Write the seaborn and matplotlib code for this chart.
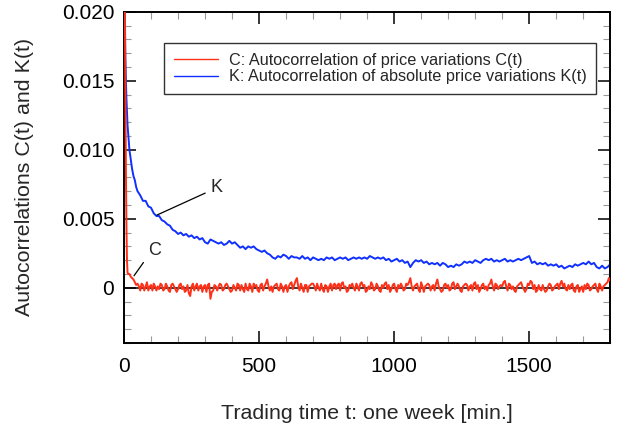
import numpy as np
import pandas as pd
import matplotlib
matplotlib.use("Agg")
import matplotlib.pyplot as plt
import seaborn as sns

# time axis [min]: fine steps during the fast initial decay, then regular steps
t_start = [1, 3, 5, 7, 9, 11, 13, 16, 20, 25, 30, 35, 40, 45]
t_k_tail = list(range(50, 1801, 10))
t_c_tail = list(range(50, 1801, 5))

# K(t): autocorrelation of absolute price variations
k_start = [0.0240, 0.0200, 0.0168, 0.0150, 0.0137, 0.0127, 0.0118, 0.0110,
           0.0100, 0.0093, 0.0086, 0.0081, 0.0078, 0.0073]
k_tail = [
    0.0070, 0.0067, 0.0063, 0.0063, 0.0059, 0.0058, 0.0054, 0.0052, 0.0052, 0.0049,
    0.0048, 0.0046, 0.0045, 0.0042, 0.0041, 0.0039, 0.0040, 0.0038, 0.0039, 0.0037,
    0.0038, 0.0036, 0.0037, 0.0035, 0.0036, 0.0033, 0.0032, 0.0035, 0.0034, 0.0033,
    0.0032, 0.0033, 0.0031, 0.0032, 0.0034, 0.0032, 0.0033, 0.0031, 0.0029, 0.0030,
    0.0028, 0.0030, 0.0029, 0.0030, 0.0028, 0.0027, 0.0026, 0.0027, 0.0025, 0.0024,
    0.0022, 0.0021, 0.0023, 0.0022, 0.0024, 0.0023, 0.0021, 0.0023, 0.0022, 0.0022,
    0.0021, 0.0023, 0.0021, 0.0022, 0.0020, 0.0022, 0.0021, 0.0020, 0.0021, 0.0020,
    0.0022, 0.0021, 0.0022, 0.0020, 0.0021, 0.0022, 0.0021, 0.0022, 0.0020, 0.0021,
    0.0022, 0.0021, 0.0022, 0.0021, 0.0022, 0.0021, 0.0023, 0.0022, 0.0021, 0.0022,
    0.0021, 0.0022, 0.0020, 0.0021, 0.0019, 0.0020, 0.0021, 0.0019, 0.0020, 0.0018,
    0.0019, 0.0015, 0.0018, 0.0020, 0.0019, 0.0020, 0.0018, 0.0019, 0.0017, 0.0018,
    0.0017, 0.0018, 0.0016, 0.0018, 0.0017, 0.0015, 0.0016, 0.0015, 0.0017, 0.0016,
    0.0017, 0.0019, 0.0018, 0.0019, 0.0018, 0.0020, 0.0019, 0.0018, 0.0020, 0.0021,
    0.0020, 0.0021, 0.0019, 0.0020, 0.0019, 0.0020, 0.0021, 0.0019, 0.0020, 0.0019,
    0.0020, 0.0021, 0.0020, 0.0021, 0.0022, 0.0023, 0.0018, 0.0019, 0.0017, 0.0018,
    0.0017, 0.0018, 0.0016, 0.0017, 0.0016, 0.0017, 0.0015, 0.0016, 0.0014, 0.0015,
    0.0016, 0.0015, 0.0017, 0.0016, 0.0017, 0.0018, 0.0017, 0.0019, 0.0017, 0.0018,
    0.0015, 0.0014, 0.0016, 0.0014, 0.0015, 0.0017,
]

# C(t): autocorrelation of price variations
c_start = [0.0260, 0.0200, 0.0135, 0.0085, 0.0045, 0.0020, 0.0011, 0.0010,
           0.0010, 0.0008, 0.0007, 0.0006, 0.0004, 0.0002]
# tail values in units of 1e-4, one row per 50 minutes
c_tail_e4 = [
    3, 1, -2, 3, 2, -2, 1, 4, -2, 1,
    2, -2, 3, 1, -2, 1, -1, 3, 2, -2,
    -1, 3, 1, -2, -3, 2, 3, 1, -1, -3,
    -1, 2, 3, -1, 1, -3, -2, 2, -4, -6,
    1, 3, -2, 1, 3, -2, 1, 2, -3, 1,
    2, -3, 2, 3, -8, -3, -2, 2, 1, -2,
    1, 3, 2, -2, -1, 2, 3, 1, -1, -3,
    -2, 2, 0, -2, 3, 2, -2, 2, -1, -3,
    3, -1, -2, 3, 1, -3, 3, 1, 2, -2,
    -3, 2, 3, -2, 1, 3, 6, 1, -2, 1,
    -3, 1, 2, 3, -1, -2, 3, 1, -3, 1,
    2, -3, 1, 3, 4, -1, 2, 5, 7, 1,
    -2, 3, 0, -3, 2, 2, -3, 1, 2, 3,
    3, 1, -2, 3, 0, -2, 3, -1, -3, 2,
    1, -3, 1, 3, -2, 2, 3, -1, 2, 3,
    -2, 3, 4, 0, 1, -3, -2, 2, 1, 3,
    0, -2, 3, 1, -2, 3, 4, 1, 2, -3,
    -2, 1, -1, 4, 2, -2, -1, 3, 1, -2,
    -3, 2, 0, 3, 4, -1, 2, -3, -1, 2,
    3, -1, -3, 2, 0, 3, 1, -2, -1, 3,
    2, 4, 7, 1, -2, 1, 2, 3, -1, -3,
    4, 1, -3, 1, 2, 3, 2, -2, 1, 2,
    -2, 3, 6, 1, -1, -3, -2, 2, 3, 0,
    2, -2, -1, 3, 4, -1, 1, 3, 1, -2,
    -3, 1, 2, 3, 2, -2, 1, 2, -2, 3,
    4, -1, 2, -3, -1, 2, 3, -1, 1, -2,
    2, 3, 6, 1, -2, 3, 2, -1, 1, 2,
    1, 4, 5, 1, -2, 3, 2, -1, 1, -2,
    -3, 1, 2, 3, 4, 1, -1, -3, -1, 3,
    2, 5, 4, -1, 2, -3, -2, 2, -1, -2,
    2, -1, -3, -2, 1, 3, 2, -2, -1, 1,
    2, 3, -1, 3, 5, 1, 3, -1, -2, 2,
    -1, 2, 3, -2, -3, 1, 2, -3, -1, 1,
    -3, 2, -1, 3, 2, -2, -1, 1, 2, 3,
    -1, -3, 3, 1, -2, 1, 2, 3, 4, 7,
    5,
]

df_k = pd.DataFrame({"t": t_start + t_k_tail, "K": k_start + k_tail})
df_c = pd.DataFrame({"t": t_start + t_c_tail,
                     "C": c_start + [v * 1e-4 for v in c_tail_e4]})

sns.set_theme(style="ticks")
plt.rcParams["font.family"] = ["Liberation Sans", "DejaVu Sans"]

fig = plt.figure(figsize=(6.17, 4.38), dpi=100)
ax = fig.add_axes([0.201, 0.217, 0.788, 0.756])

ax.axhline(0, color="black", lw=1.1, zorder=1)
sns.lineplot(data=df_c, x="t", y="C", ax=ax, color="#ff3018", lw=1.4,
             label="C: Autocorrelation of price variations C(t)", zorder=3)
sns.lineplot(data=df_k, x="t", y="K", ax=ax, color="#1030ff", lw=1.4,
             label="K: Autocorrelation of absolute price variations K(t)", zorder=2)

ax.set_xlim(0, 1800)
ax.set_ylim(-0.004, 0.020)
ax.set_xticks([0, 500, 1000, 1500])
ax.set_xticks(np.arange(0, 1801, 100), minor=True)
ax.set_yticks([0, 0.005, 0.010, 0.015, 0.020])
ax.set_yticklabels(["0", "0.005", "0.010", "0.015", "0.020"])
ax.set_yticks(np.arange(-0.004, 0.0201, 0.001), minor=True)

for s in ax.spines.values():
    s.set_visible(True)
    s.set_linewidth(1.4)
    s.set_color("black")
ax.tick_params(which="both", direction="in", top=True, right=True,
               labelsize=15, colors="black")
ax.tick_params(which="major", length=8.5, width=1.1)
ax.tick_params(axis="x", which="major", pad=10)
ax.tick_params(axis="y", which="major", pad=7)
ax.tick_params(which="minor", length=5, width=0.8, color="#999999")

ax.set_xlabel("Trading time t: one week [min.]", fontsize=15.4, labelpad=20)
ax.set_ylabel("Autocorrelations C(t) and K(t)", fontsize=15.4, labelpad=20)

leg = ax.legend(loc="upper left", bbox_to_anchor=(0.082, 0.906), fontsize=11.7,
                frameon=True, fancybox=False, edgecolor="black",
                handlelength=2.7, handletextpad=0.7, borderpad=0.6,
                labelspacing=0.1, borderaxespad=0)
leg.get_frame().set_linewidth(1.0)
for line in leg.get_lines():
    line.set_linewidth(1.0)

ax.annotate("K", xy=(122, 0.00527), xytext=(322, 0.0073), fontsize=13,
            ha="left", va="center",
            arrowprops=dict(arrowstyle="-", color="black", lw=0.9,
                            shrinkA=2, shrinkB=0, relpos=(0, 0.3)))
ax.annotate("C", xy=(37, 0.00087), xytext=(90, 0.0027), fontsize=13,
            ha="left", va="center",
            arrowprops=dict(arrowstyle="-", color="black", lw=0.9,
                            shrinkA=2, shrinkB=0, relpos=(0, 0.2)))

fig.savefig("out.png", dpi=100)
